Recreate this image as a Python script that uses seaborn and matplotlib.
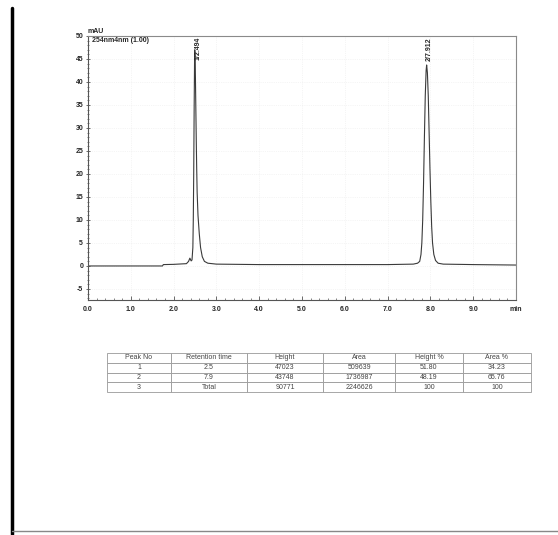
import matplotlib
matplotlib.use("Agg")
import matplotlib.pyplot as plt
import seaborn as sns
import pandas as pd
from matplotlib.ticker import MultipleLocator
from matplotlib.lines import Line2D

# ---- chromatogram trace ----
times = [0.0, 1.0, 1.74, 1.76, 2.0, 2.3, 2.35, 2.38, 2.41, 2.43, 2.45, 2.46, 2.47,
         2.48, 2.49, 2.494, 2.50, 2.51, 2.52, 2.53, 2.54, 2.55, 2.57, 2.60, 2.63,
         2.67, 2.72, 2.80, 3.0, 4.0, 5.0, 6.0, 7.0, 7.6, 7.70, 7.75, 7.78, 7.80,
         7.82, 7.84, 7.86, 7.88, 7.90, 7.912, 7.93, 7.95, 7.97, 7.99, 8.01, 8.03,
         8.05, 8.08, 8.12, 8.18, 8.3, 9.0, 10.0]
signal = [0.0, 0.0, 0.0, 0.3, 0.35, 0.5, 1.0, 1.7, 1.1, 1.3, 4.0, 10.0, 20.0,
          34.0, 45.0, 47.0, 46.0, 41.0, 34.0, 27.0, 21.0, 16.0, 11.0, 7.0, 4.0,
          2.0, 1.0, 0.6, 0.4, 0.3, 0.3, 0.3, 0.3, 0.4, 0.6, 1.0, 2.5, 5.0,
          10.0, 18.0, 28.0, 37.0, 42.5, 43.7, 42.0, 37.0, 29.0, 21.0, 14.0, 8.5,
          5.0, 2.5, 1.2, 0.6, 0.4, 0.3, 0.2]

peak_times = [2.494, 7.912]
peak_labels = ["1/2.494", "2/7.912"]

# ---- peak table ----
col_labels = ["Peak No", "Retention time", "Height", "Area", "Height %", "Area %"]
peak_no = ["1", "2", "3"]
ret_time = ["2.5", "7.9", "Total"]
heights = ["47023", "43748", "90771"]
areas = ["509639", "1736987", "2246626"]
height_pct = ["51.80", "48.19", "100"]
area_pct = ["34.23", "65.76", "100"]

x_ticks = [0, 1, 2, 3, 4, 5, 6, 7, 8, 9]
y_ticks = [-5, 0, 5, 10, 15, 20, 25, 30, 35, 40, 45, 50]

sns.set_theme(style="white")
plt.rcParams['font.family'] = ['Liberation Sans', 'DejaVu Sans']

W, H = 558, 535
fig = plt.figure(figsize=(W / 100, H / 100), dpi=100)
fig.patch.set_facecolor("white")

def fx(px):
    return px / W

def fy(py):
    return 1 - py / H

# chromatogram axes
ax_l, ax_r, ax_t, ax_b = 88, 516, 36, 300
ax = fig.add_axes([fx(ax_l), fy(ax_b), (ax_r - ax_l) / W, (ax_b - ax_t) / H])
df = pd.DataFrame({"t": times, "s": signal})
sns.lineplot(data=df, x="t", y="s", ax=ax, estimator=None, sort=False,
             color="#3a3a3a", linewidth=0.8)
ax.set_xlim(0, 10)
ax.set_ylim(-7.4, 50)
ax.set_xlabel("")
ax.set_ylabel("")
ax.set_xticks(x_ticks + [10])
ax.set_xticklabels([f"{v:.1f}" for v in x_ticks] + ["min"])
ax.set_yticks(y_ticks)
ax.set_yticklabels([str(v) for v in y_ticks])
ax.xaxis.set_minor_locator(MultipleLocator(0.2))
ax.yaxis.set_minor_locator(MultipleLocator(1))
ax.tick_params(axis="both", which="major", labelsize=5, length=3, width=0.6,
               color="#555555", pad=2)
ax.tick_params(axis="x", which="major", direction="in", pad=4)
ax.tick_params(axis="y", which="major", direction="inout")
ax.tick_params(axis="both", which="minor", length=1.5, width=0.5, color="#555555")
ax.tick_params(axis="x", which="minor", direction="in")
ax.tick_params(axis="y", which="minor", direction="inout")
ax.tick_params(left=True, bottom=True, which="both")
for lab in ax.get_xticklabels() + ax.get_yticklabels():
    lab.set_fontweight("bold")
for s in ax.spines.values():
    s.set_color("#8a8a8a")
    s.set_linewidth(0.8)
ax.spines["left"].set_color("#555555")
ax.spines["bottom"].set_color("#555555")
ax.grid(True, which="major", axis="both", color="#ececec", linestyle=":", linewidth=0.5)
ax.set_axisbelow(True)

ax.text(0.0, 1.005, "mAU", transform=ax.transAxes, fontsize=5, fontweight="bold",
        ha="left", va="bottom")
ax.text(0.01, 0.995, "254nm4nm (1.00)", transform=ax.transAxes, fontsize=5,
        fontweight="bold", ha="left", va="top")
for pt, lbl in zip(peak_times, peak_labels):
    ax.text(pt + 0.07, 49.8, lbl, rotation=90, fontsize=5, fontweight="bold",
            ha="center", va="top")

# table
col_w = [180, 213, 215, 202, 190, 192]
tb_l, tb_r, tb_t, tb_b = 107, 531, 353, 392
tax = fig.add_axes([fx(tb_l), fy(tb_b), (tb_r - tb_l) / W, (tb_b - tb_t) / H])
tax.axis("off")
rows = [list(r) for r in zip(peak_no, ret_time, heights, areas, height_pct, area_pct)]
tot = sum(col_w)
tbl = tax.table(cellText=rows, colLabels=col_labels, bbox=[0, 0, 1, 1],
                cellLoc="center", colWidths=[w / tot for w in col_w])
tbl.auto_set_font_size(False)
tbl.set_fontsize(5)
for cell in tbl.get_celld().values():
    cell.set_edgecolor("#999999")
    cell.set_linewidth(0.6)
    cell.get_text().set_color("#444444")

# page border lines
fig.add_artist(Line2D([fx(12), fx(12)], [fy(8), fy(534)], color="black", linewidth=2.5))
fig.add_artist(Line2D([fx(12), fx(558)], [fy(531), fy(531)], color="#888888", linewidth=1.0))

fig.savefig("out.png", dpi=100, facecolor="white")
